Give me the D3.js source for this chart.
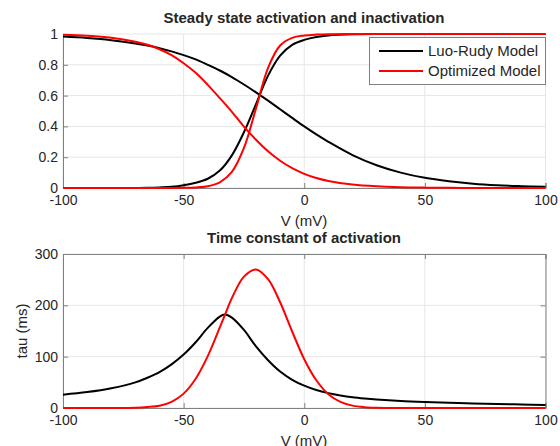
<!DOCTYPE html>
<html>
<head>
<meta charset="utf-8">
<script src="https://cdn.jsdelivr.net/npm/d3@7"></script>
<style>
body { margin: 0; background: #fff; }
svg text { font-family: "Liberation Sans", Arial, sans-serif; fill: #262626; }
</style>
</head>
<body>
<script>
// steady state curves (V in mV)
var voltsTop = [-100,-90,-80,-70,-65,-60,-55,-50,-45,-40,-35,-30,-25,-20,-15,-10,-5,0,5,10,20,30,40,50,60,70,80,90,100];
var luoAct   = [0,0,0.0002,0.0007,0.0014,0.004,0.008,0.018,0.034,0.06,0.113,0.212,0.362,0.545,0.73,0.86,0.93,0.962,0.981,0.991,0.998,1,1,1,1,1,1,1,1];
var luoInact = [0.983,0.974,0.96,0.939,0.925,0.908,0.887,0.863,0.835,0.8,0.763,0.72,0.672,0.621,0.567,0.511,0.455,0.4,0.348,0.3,0.214,0.148,0.1,0.066,0.044,0.028,0.018,0.012,0.0075];
var optAct   = [0,0,0,0,0.0001,0.0002,0.0005,0.0014,0.004,0.012,0.037,0.104,0.26,0.517,0.78,0.925,0.975,0.99,0.996,0.9986,1,1,1,1,1,1,1,1,1];
var optInact = [0.9945,0.9885,0.976,0.95,0.93,0.901,0.863,0.81,0.748,0.67,0.584,0.495,0.398,0.313,0.238,0.177,0.129,0.092,0.065,0.0457,0.0222,0.0106,0.005,0.0024,0.0011,0.0005,0.0002,0.0001,0];

// time constants
var voltsBot = [-100,-90,-80,-70,-65,-60,-55,-50,-45,-40,-35,-33,-30,-25,-20,-15,-10,-5,0,5,10,15,20,25,30,40,50,60,70,80,90,100];
var luoTau   = [26,31,38.5,50,59,70,85,104,128,156,178,182,176,152,120,93,71,55,43.5,35,29,24.5,21,18.5,16.5,13.5,11.5,10,8.8,7.8,6.8,6];
var optTau   = [0,0,0.05,0.6,1.9,4.5,12,28,57,101,157,180,214,256,270,251,206,149,95,54,27,12,4.6,1.6,0.5,0.03,0,0,0,0,0,0];

var xTicks = [-100,-50,0,50,100];
var yTopTicks = [0,0.2,0.4,0.6,0.8,1];
var yBotTicks = [0,100,200,300];
var legendNames = ["Luo-Rudy Model","Optimized Model"];
var seriesColors = ["#000000","#ff0000"];

var svg = d3.select("body").append("svg")
    .attr("width", 560)
    .attr("height", 446);

var xScale = d3.scaleLinear().domain([-100,100]).range([63,545.5]);
var yTop = d3.scaleLinear().domain([0,1]).range([188,34]);
var yBot = d3.scaleLinear().domain([0,300]).range([408,254]);

var fmt = function(d){ return String(d); };

var styleAxis = function(g){
    g.select(".domain").attr("stroke","#808080");
    g.selectAll(".tick line").attr("stroke","#808080");
    g.selectAll(".tick text").attr("font-size","14px").attr("fill","#262626");
};

var loadGrid = function(yScale, yTicks){
    var g = svg.append("g");
    g.selectAll(".vg").data(xTicks).enter().append("line")
        .attr("x1", xScale).attr("x2", xScale)
        .attr("y1", yScale.range()[0]).attr("y2", yScale.range()[1])
        .attr("stroke","#e6e6e6");
    g.selectAll(".hg").data(yTicks).enter().append("line")
        .attr("x1", xScale.range()[0]).attr("x2", xScale.range()[1])
        .attr("y1", yScale).attr("y2", yScale)
        .attr("stroke","#e6e6e6");
};

var loadAxes = function(yScale, yTicks, box){
    var y0 = yScale.range()[0], y1 = yScale.range()[1];
    var xAxis = d3.axisBottom(xScale).tickValues(xTicks).tickFormat(fmt).tickSize(-5).tickPadding(7);
    var yAxis = d3.axisLeft(yScale).tickValues(yTicks).tickFormat(fmt).tickSize(-5).tickPadding(5);

    svg.append("g").attr("transform","translate(0," + y0 + ")").call(xAxis).call(styleAxis);
    svg.append("g").attr("transform","translate(" + xScale.range()[0] + ",0)").call(yAxis).call(styleAxis);

    if (box) {
        svg.append("g").attr("transform","translate(0," + y1 + ")")
            .call(d3.axisTop(xScale).tickValues(xTicks).tickFormat("").tickSize(-5))
            .call(styleAxis);
        svg.append("g").attr("transform","translate(" + xScale.range()[1] + ",0)")
            .call(d3.axisRight(yScale).tickValues(yTicks).tickFormat("").tickSize(-5))
            .call(styleAxis);
    }
};

var drawCurve = function(volts, values, yScale, color){
    var line = d3.line()
        .x(function(d,i){ return xScale(volts[i]); })
        .y(function(d){ return yScale(d); })
        .curve(d3.curveCatmullRom.alpha(0.5));
    svg.append("path").datum(values)
        .attr("fill","none")
        .attr("stroke", color)
        .attr("stroke-width", 2)
        .attr("d", line);
};

var addText = function(x, y, str, size, bold){
    return svg.append("text")
        .attr("x", x).attr("y", y)
        .attr("text-anchor","middle")
        .attr("font-size", size)
        .attr("font-weight", bold ? "bold" : "normal")
        .text(str);
};

// top panel
loadGrid(yTop, yTopTicks);
loadAxes(yTop, yTopTicks, false);
drawCurve(voltsTop, luoAct, yTop, seriesColors[0]);
drawCurve(voltsTop, luoInact, yTop, seriesColors[0]);
drawCurve(voltsTop, optAct, yTop, seriesColors[1]);
drawCurve(voltsTop, optInact, yTop, seriesColors[1]);
addText(304, 23, "Steady state activation and inactivation", "15px", true);
addText(304, 226, "V (mV)", "15px", false);

// legend
var legend = svg.append("g");
legend.append("rect")
    .attr("x", 369.5).attr("y", 37.5)
    .attr("width", 176).attr("height", 47)
    .attr("fill","#fff").attr("stroke","#808080");
legendNames.forEach(function(name, i){
    var ly = 51 + i*20;
    legend.append("line")
        .attr("x1", 379).attr("x2", 423)
        .attr("y1", ly).attr("y2", ly)
        .attr("stroke", seriesColors[i]).attr("stroke-width", 2);
    legend.append("text")
        .attr("x", 428).attr("y", ly).attr("dy","0.35em")
        .attr("font-size","15px")
        .text(name);
});

// bottom panel
loadGrid(yBot, yBotTicks);
loadAxes(yBot, yBotTicks, true);
drawCurve(voltsBot, luoTau, yBot, seriesColors[0]);
drawCurve(voltsBot, optTau, yBot, seriesColors[1]);
addText(304, 243, "Time constant of activation", "15px", true);
addText(304, 446, "V (mV)", "15px", false);
svg.append("text")
    .attr("transform","translate(27,331) rotate(-90)")
    .attr("text-anchor","middle")
    .attr("font-size","15px")
    .text("tau (ms)");
</script>
</body>
</html>
